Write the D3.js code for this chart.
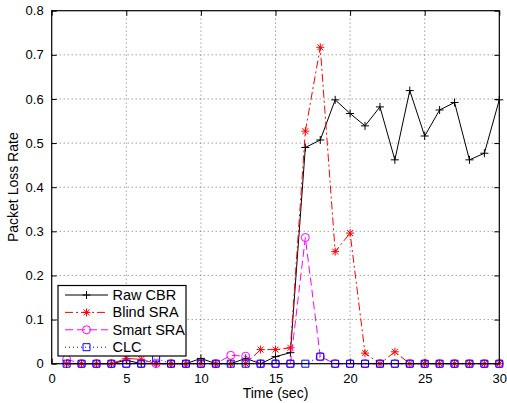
<!doctype html>
<html lang="en">
  <head>
    <meta charset="utf-8">
    <title>Packet loss rate</title>
    <script src="https://d3js.org/d3.v7.min.js"></script>
    <style>
      body { margin: 0; background: #fff; }
      text { font-family: "Liberation Sans", Arial, sans-serif; font-size: 13px; fill: #000; }
    </style>
  </head>

  <body>
    <svg width="507" height="403"></svg>
    <script>
      // time in seconds
      var times = d3.range(1, 31);
      var rawCBR   = [0, 0, 0, 0, 0.008, 0, 0, 0, 0, 0.012, 0, 0, 0.012, 0, 0.016, 0.025, 0.490, 0.507, 0.598, 0.567,
                      0.539, 0.582, 0.462, 0.619, 0.516, 0.575, 0.592, 0.462, 0.477, 0.598];
      var blindSRA = [0, 0, 0, 0, 0.012, 0.010, 0, 0, 0, 0, 0, 0, 0, 0.032, 0.032, 0.036, 0.527, 0.717, 0.254, 0.296,
                      0.024, 0, 0.027, 0, 0, 0, 0, 0, 0, 0];
      var smartSRA = [0.010, 0, 0, 0, 0, 0, 0, 0, 0, 0, 0, 0.019, 0.017, 0, 0, 0, 0.286, 0.016, 0, 0,
                      0, 0, 0, 0, 0, 0, 0, 0, 0, 0];
      var clc      = [0, 0, 0, 0, 0, 0, 0.012, 0, 0, 0, 0, 0, 0, 0, 0, 0, 0, 0.016, 0, 0,
                      0, 0, 0, 0, 0, 0, 0, 0, 0, 0];
      var xTicks = [0, 5, 10, 15, 20, 25, 30];
      var yTicks = [0, 0.1, 0.2, 0.3, 0.4, 0.5, 0.6, 0.7, 0.8];

      var series = [
        { name: 'Raw CBR',   values: rawCBR,   color: '#000',    dash: null,       marker: 'plus' },
        { name: 'Blind SRA', values: blindSRA, color: '#ff0000', dash: '8,3,2,3',  marker: 'star' },
        { name: 'Smart SRA', values: smartSRA, color: '#ff00ff', dash: '8,4',      marker: 'circle' },
        { name: 'CLC',       values: clc,      color: '#0000ff', dash: '1,3',      marker: 'square' }
      ];

      var svg = d3.select('svg');
      var pLeft = 51.7, pRight = 499.3, pTop = 10.7, pBottom = 363.7;

      var x = d3.scaleLinear().domain([0, 30]).range([pLeft, pRight]);
      var y = d3.scaleLinear().domain([0, 0.8]).range([pBottom, pTop]);

      // grid
      var grid = svg.append('g')
        .attr('stroke', '#555')
        .attr('stroke-width', 0.8)
        .attr('stroke-dasharray', '1,3');
      grid.selectAll('.gx').data(xTicks.slice(1, -1)).enter()
        .append('line')
          .attr('x1', function(d){ return x(d); })
          .attr('x2', function(d){ return x(d); })
          .attr('y1', pTop).attr('y2', pBottom);
      grid.selectAll('.gy').data(yTicks.slice(1, -1)).enter()
        .append('line')
          .attr('y1', function(d){ return y(d); })
          .attr('y2', function(d){ return y(d); })
          .attr('x1', pLeft).attr('x2', pRight);

      // axes, ticks pointing inward like matlab
      var fmtY = function(d){ return d === 0 ? '0' : d3.format('.1f')(d); };
      svg.append('g')
        .attr('transform', 'translate(0,' + pBottom + ')')
        .call(d3.axisBottom(x).tickValues(xTicks).tickSizeInner(-5).tickSizeOuter(0).tickPadding(10));
      svg.append('g')
        .attr('transform', 'translate(0,' + pTop + ')')
        .call(d3.axisTop(x).tickValues(xTicks).tickSizeInner(-5).tickSizeOuter(0).tickFormat(''));
      svg.append('g')
        .attr('transform', 'translate(' + pLeft + ',0)')
        .call(d3.axisLeft(y).tickValues(yTicks).tickFormat(fmtY).tickSizeInner(-5).tickSizeOuter(0).tickPadding(8));
      svg.append('g')
        .attr('transform', 'translate(' + pRight + ',0)')
        .call(d3.axisRight(y).tickValues(yTicks).tickSizeInner(-5).tickSizeOuter(0).tickFormat(''));

      svg.selectAll('.domain').remove();
      svg.selectAll('.tick line').attr('stroke', '#000');
      svg.selectAll('.tick text')
        .attr('font-family', '"Liberation Sans", Arial, sans-serif')
        .attr('font-size', 13.5)
        .attr('fill', '#000');

      var markerPath = function(type){
        if (type === 'plus') return 'M-4,0H4M0,-4V4';
        if (type === 'star') return 'M-4,0H4M0,-4V4M-3,-3L3,3M-3,3L3,-3';
        if (type === 'circle') return 'M4,0A4,4 0 1,1 -4,0A4,4 0 1,1 4,0Z';
        return 'M-3.5,-3.5H3.5V3.5H-3.5Z';
      };

      var line = d3.line()
        .x(function(d, i){ return x(times[i]); })
        .y(function(d){ return y(d); });

      series.forEach(function(s){
        var g = svg.append('g');
        g.append('path')
          .datum(s.values)
          .attr('d', line)
          .attr('fill', 'none')
          .attr('stroke', s.color)
          .attr('stroke-width', 1)
          .attr('stroke-dasharray', s.dash);
        g.selectAll('path.mk')
          .data(s.values)
          .enter()
          .append('path')
            .attr('class', 'mk')
            .attr('transform', function(d, i){ return 'translate(' + x(times[i]) + ',' + y(d) + ')'; })
            .attr('d', markerPath(s.marker))
            .attr('fill', 'none')
            .attr('stroke', s.color)
            .attr('stroke-width', 1);
      });

      // box
      svg.append('rect')
        .attr('x', pLeft).attr('y', pTop)
        .attr('width', pRight - pLeft).attr('height', pBottom - pTop)
        .attr('fill', 'none').attr('stroke', '#000').attr('stroke-width', 1.2);

      // legend
      var legend = svg.append('g');
      legend.append('rect')
        .attr('x', 58).attr('y', 285.5)
        .attr('width', 128).attr('height', 70.5)
        .attr('fill', '#fff').attr('stroke', '#000').attr('stroke-width', 1.2);
      var items = legend.selectAll('g.item')
        .data(series)
        .enter()
        .append('g')
          .attr('transform', function(d, i){ return 'translate(0,' + (295 + i * 17.4) + ')'; });
      items.append('line')
        .attr('x1', 65).attr('x2', 108)
        .attr('stroke', function(d){ return d.color; })
        .attr('stroke-dasharray', function(d){ return d.dash; });
      items.append('path')
        .attr('transform', 'translate(86.5,0)')
        .attr('d', function(d){ return markerPath(d.marker); })
        .attr('fill', 'none')
        .attr('stroke', function(d){ return d.color; });
      items.append('text')
        .attr('x', 112.5).attr('dy', '0.35em')
        .style('font-size', '14.5px')
        .text(function(d){ return d.name; });

      // axis titles
      svg.append('text')
        .attr('x', (pLeft + pRight) / 2).attr('y', 398)
        .attr('text-anchor', 'middle')
        .style('font-size', '14px')
        .text('Time (sec)');
      svg.append('text')
        .attr('transform', 'translate(18,' + ((pTop + pBottom) / 2) + ') rotate(-90)')
        .attr('text-anchor', 'middle')
        .style('font-size', '14px')
        .text('Packet Loss Rate');
    </script>
  </body>
</html>
